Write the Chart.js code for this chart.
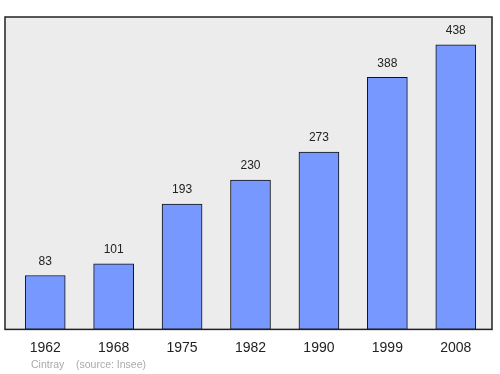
<!DOCTYPE html>
<html><head><meta charset="utf-8">
<script src="https://cdn.jsdelivr.net/npm/chart.js@4/dist/chart.umd.min.js"></script>
<style>html,body{margin:0;padding:0;background:#fff}#w{width:500px;height:374px}</style>
</head><body><div id="w"><canvas id="c" width="500" height="374"></canvas></div>
<script>
const years = ["1962","1968","1975","1982","1990","1999","2008"];
const population = [83,101,193,230,273,388,438];
const footerPlace = "Cintray";
const footerSource = "(source: Insee)";

const bgPlugin = {
  id:'bg',
  beforeDraw(chart){
    const {ctx, chartArea:a} = chart;
    ctx.save();
    ctx.fillStyle = '#ececec';
    ctx.fillRect(5, a.top, 487, a.bottom - a.top);
    ctx.restore();
  },
  afterDatasetsDraw(chart){
    const {ctx, chartArea:a} = chart;
    ctx.save();
    ctx.strokeStyle = '#222';
    ctx.lineWidth = 1.5;
    ctx.strokeRect(5, a.top, 487, a.bottom - a.top);
    const meta = chart.getDatasetMeta(0);
    ctx.fillStyle = '#222';
    ctx.font = '12px "Liberation Sans", Arial, sans-serif';
    ctx.textAlign = 'center';
    ctx.textBaseline = 'middle';
    meta.data.forEach((bar,i)=>{
      ctx.fillText(String(population[i]), bar.x, bar.y - 14);
    });
    ctx.fillStyle = '#aaaaaa';
    ctx.font = '10.5px "Liberation Sans", Arial, sans-serif';
    ctx.textAlign = 'left';
    ctx.fillText(footerPlace, 31, 365);
    ctx.fillText(footerSource, 76, 365);
    ctx.restore();
  }
};

new Chart(document.getElementById('c'), {
  type:'bar',
  data:{labels:years, datasets:[{data:population, backgroundColor:'#7799ff', borderColor:'#111', borderWidth:1, borderSkipped:false, barThickness:40}]},
  options:{
    responsive:false, animation:false,
    layout:{padding:{left:11,right:10,top:17,bottom:14.6}},
    plugins:{legend:{display:false}, tooltip:{enabled:false}},
    scales:{
      x:{grid:{display:false}, border:{display:false},
         ticks:{color:'#222', padding:2.6, font:{size:14, family:'"Liberation Sans", Arial, sans-serif'}}},
      y:{display:false, min:0, max:481}
    }
  },
  plugins:[bgPlugin]
});
</script></body></html>
